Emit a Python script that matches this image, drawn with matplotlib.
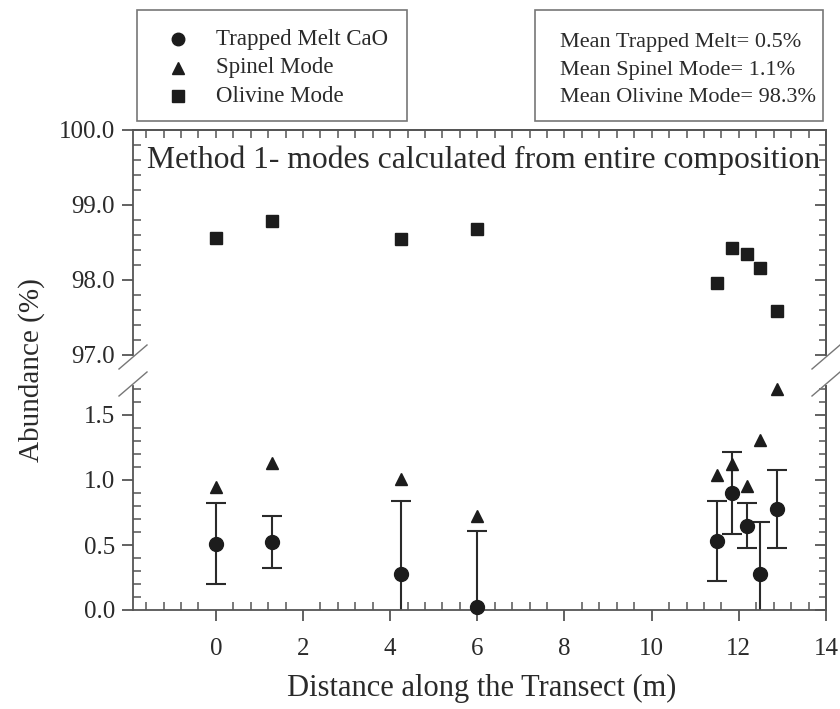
import numpy as np
import matplotlib.pyplot as plt
from matplotlib.patches import Rectangle
from matplotlib.lines import Line2D

# distance along transect (m)
dist = np.array([0.0, 1.3, 4.24, 6.0, 11.49, 11.84, 12.19, 12.49, 12.88])
# trapped melt CaO (%) with error
melt = np.array([0.51, 0.52, 0.28, 0.025, 0.53, 0.90, 0.65, 0.28, 0.78])
melt_err = np.array([0.31, 0.20, 0.56, 0.58, 0.31, 0.315, 0.17, 0.40, 0.30])
# spinel mode (%)
spinel = np.array([0.95, 1.13, 1.005, 0.725, 1.04, 1.12, 0.955, 1.31, 1.70])
# olivine mode (%)
olivine = np.array([98.56, 98.79, 98.54, 98.68, 97.96, 98.42, 98.34, 98.16, 97.59])

stats = ["Mean Trapped Melt= 0.5%", "Mean Spinel Mode= 1.1%", "Mean Olivine Mode= 98.3%"]
series = ["Trapped Melt CaO", "Spinel Mode", "Olivine Mode"]

plt.rcParams['font.family'] = ['Liberation Serif', 'DejaVu Serif']
txt = '#2a2a2a'
ax_col = '#555555'
mk = '#1c1c1c'

W, H = 840, 709
fig = plt.figure(figsize=(8.4, 7.09), dpi=100)
L, R = 133 / W, 826 / W
ax_top = fig.add_axes([L, 1 - 355 / H, R - L, 225 / H])
ax_bot = fig.add_axes([L, 1 - 610 / H, R - L, 223.6 / H])

for a in (ax_top, ax_bot):
    a.set_xlim(-1.9, 14)
    for s in a.spines.values():
        s.set_color(ax_col)
        s.set_linewidth(1.3)
ax_top.set_ylim(97, 100)
ax_bot.set_ylim(0, 1.72)
ax_top.spines['bottom'].set_visible(False)
ax_bot.spines['top'].set_visible(False)

# data
ax_top.plot(dist, olivine, 's', color=mk, ms=8.5, clip_on=False)
ax_bot.errorbar(dist, melt, yerr=melt_err, fmt='none', ecolor='#2a2a2a',
                elinewidth=1.5, capsize=7.5, capthick=1.5)
ax_bot.plot(dist, melt, 'o', color=mk, ms=10, clip_on=False, zorder=3)
ax_bot.plot(dist, spinel, '^', color=mk, ms=9, clip_on=False, zorder=3)

# ticks
xt = np.arange(0, 15, 2)
xm = np.arange(-1.6, 14.01, 0.4)
ax_bot.set_xticks(xt)
ax_bot.set_xticks(xm, minor=True)
ax_bot.tick_params(axis='x', which='major', direction='out', length=8, width=1.3,
                   color=ax_col, labelsize=18, labelcolor=txt, pad=12, top=False)
ax_bot.tick_params(axis='x', which='minor', direction='in', length=6, width=1.1,
                   color=ax_col, top=False)
ax_top.set_xticks([])
ax_top.tick_params(axis='x', which='both', bottom=False, labelbottom=False)

ax_top.set_yticks([97, 98, 99, 100])
ax_top.set_yticks(np.arange(97.2, 100, 0.2), minor=True)
ax_top.set_yticklabels(['97.0', '98.0', '99.0', '100.0'])
ax_bot.set_yticks([0, 0.5, 1.0, 1.5])
ax_bot.set_yticks(np.arange(0.1, 1.75, 0.1), minor=True)
ax_bot.set_yticklabels(['0.0', '0.5', '1.0', '1.5'])
for a in (ax_top, ax_bot):
    a.tick_params(axis='y', which='major', direction='out', length=8, width=1.3,
                  color=ax_col, labelsize=18, labelcolor=txt, right=False, pad=5)
    a.tick_params(axis='y', which='minor', direction='in', length=6, width=1.1,
                  color=ax_col, right=False)
    sec = a.secondary_yaxis('right')
    sec.set_yticks(a.get_yticks())
    sec.set_yticks(a.get_yticks(minor=True), minor=True)
    sec.tick_params(axis='y', which='major', direction='in', length=8, width=1.3,
                    color=ax_col, labelright=False)
    sec.tick_params(axis='y', which='minor', direction='in', length=5, width=1.1,
                    color=ax_col)
    sec.spines['right'].set_color(ax_col)
    sec.spines['right'].set_linewidth(1.3)

sx = ax_top.secondary_xaxis('top')
sx.set_xticks(np.arange(-1.6, 14.01, 0.4))
sx.tick_params(axis='x', direction='in', length=6, width=1.1, color=ax_col,
               labeltop=False)
sx.spines['top'].set_color(ax_col)
sx.spines['top'].set_linewidth(1.3)

# axis break marks
def slash(xpix, ypix):
    fig.add_artist(Line2D([(xpix - 14) / W, (xpix + 14) / W],
                          [1 - (ypix + 12) / H, 1 - (ypix - 12) / H],
                          color='#777777', lw=1.0))

for xp in (L * W, R * W):
    slash(xp, 357)
    slash(xp, 384)

fig.text(484 / W, 1 - 160 / H, "Method 1- modes calculated from entire composition",
         ha='center', va='center', fontsize=22.8, color=txt)

fig.text(32 / W, 1 - 370 / H, "Abundance (%)", rotation=90, ha='center',
         va='center', fontsize=21, color=txt)
fig.text(482 / W, 1 - 688 / H, "Distance along the Transect (m)", ha='center',
         va='center', fontsize=22, color=txt)

# legend box
fig.add_artist(Rectangle((137 / W, 1 - 121 / H), 270 / W, 111 / H,
                         transform=fig.transFigure, fill=False,
                         edgecolor='#777777', lw=1.2))
marks = ['o', '^', 's']
sizes = [9, 8.5, 8]
for i, (lab, m) in enumerate(zip(series, marks)):
    yy = 1 - (39 + i * 28.5) / H
    fig.add_artist(Line2D([178 / W], [yy], marker=m, color=mk, ms=sizes[i], ls='none'))
    fig.text(216 / W, yy, lab, ha='left', va='center', fontsize=16.5, color=txt)

# stats box
fig.add_artist(Rectangle((535 / W, 1 - 121 / H), 288 / W, 111 / H,
                         transform=fig.transFigure, fill=False,
                         edgecolor='#777777', lw=1.2))
for i, s in enumerate(stats):
    fig.text(560 / W, 1 - (42 + i * 28) / H, s, ha='left', va='center',
             fontsize=16, color=txt)

fig.savefig('out.png', dpi=100)
